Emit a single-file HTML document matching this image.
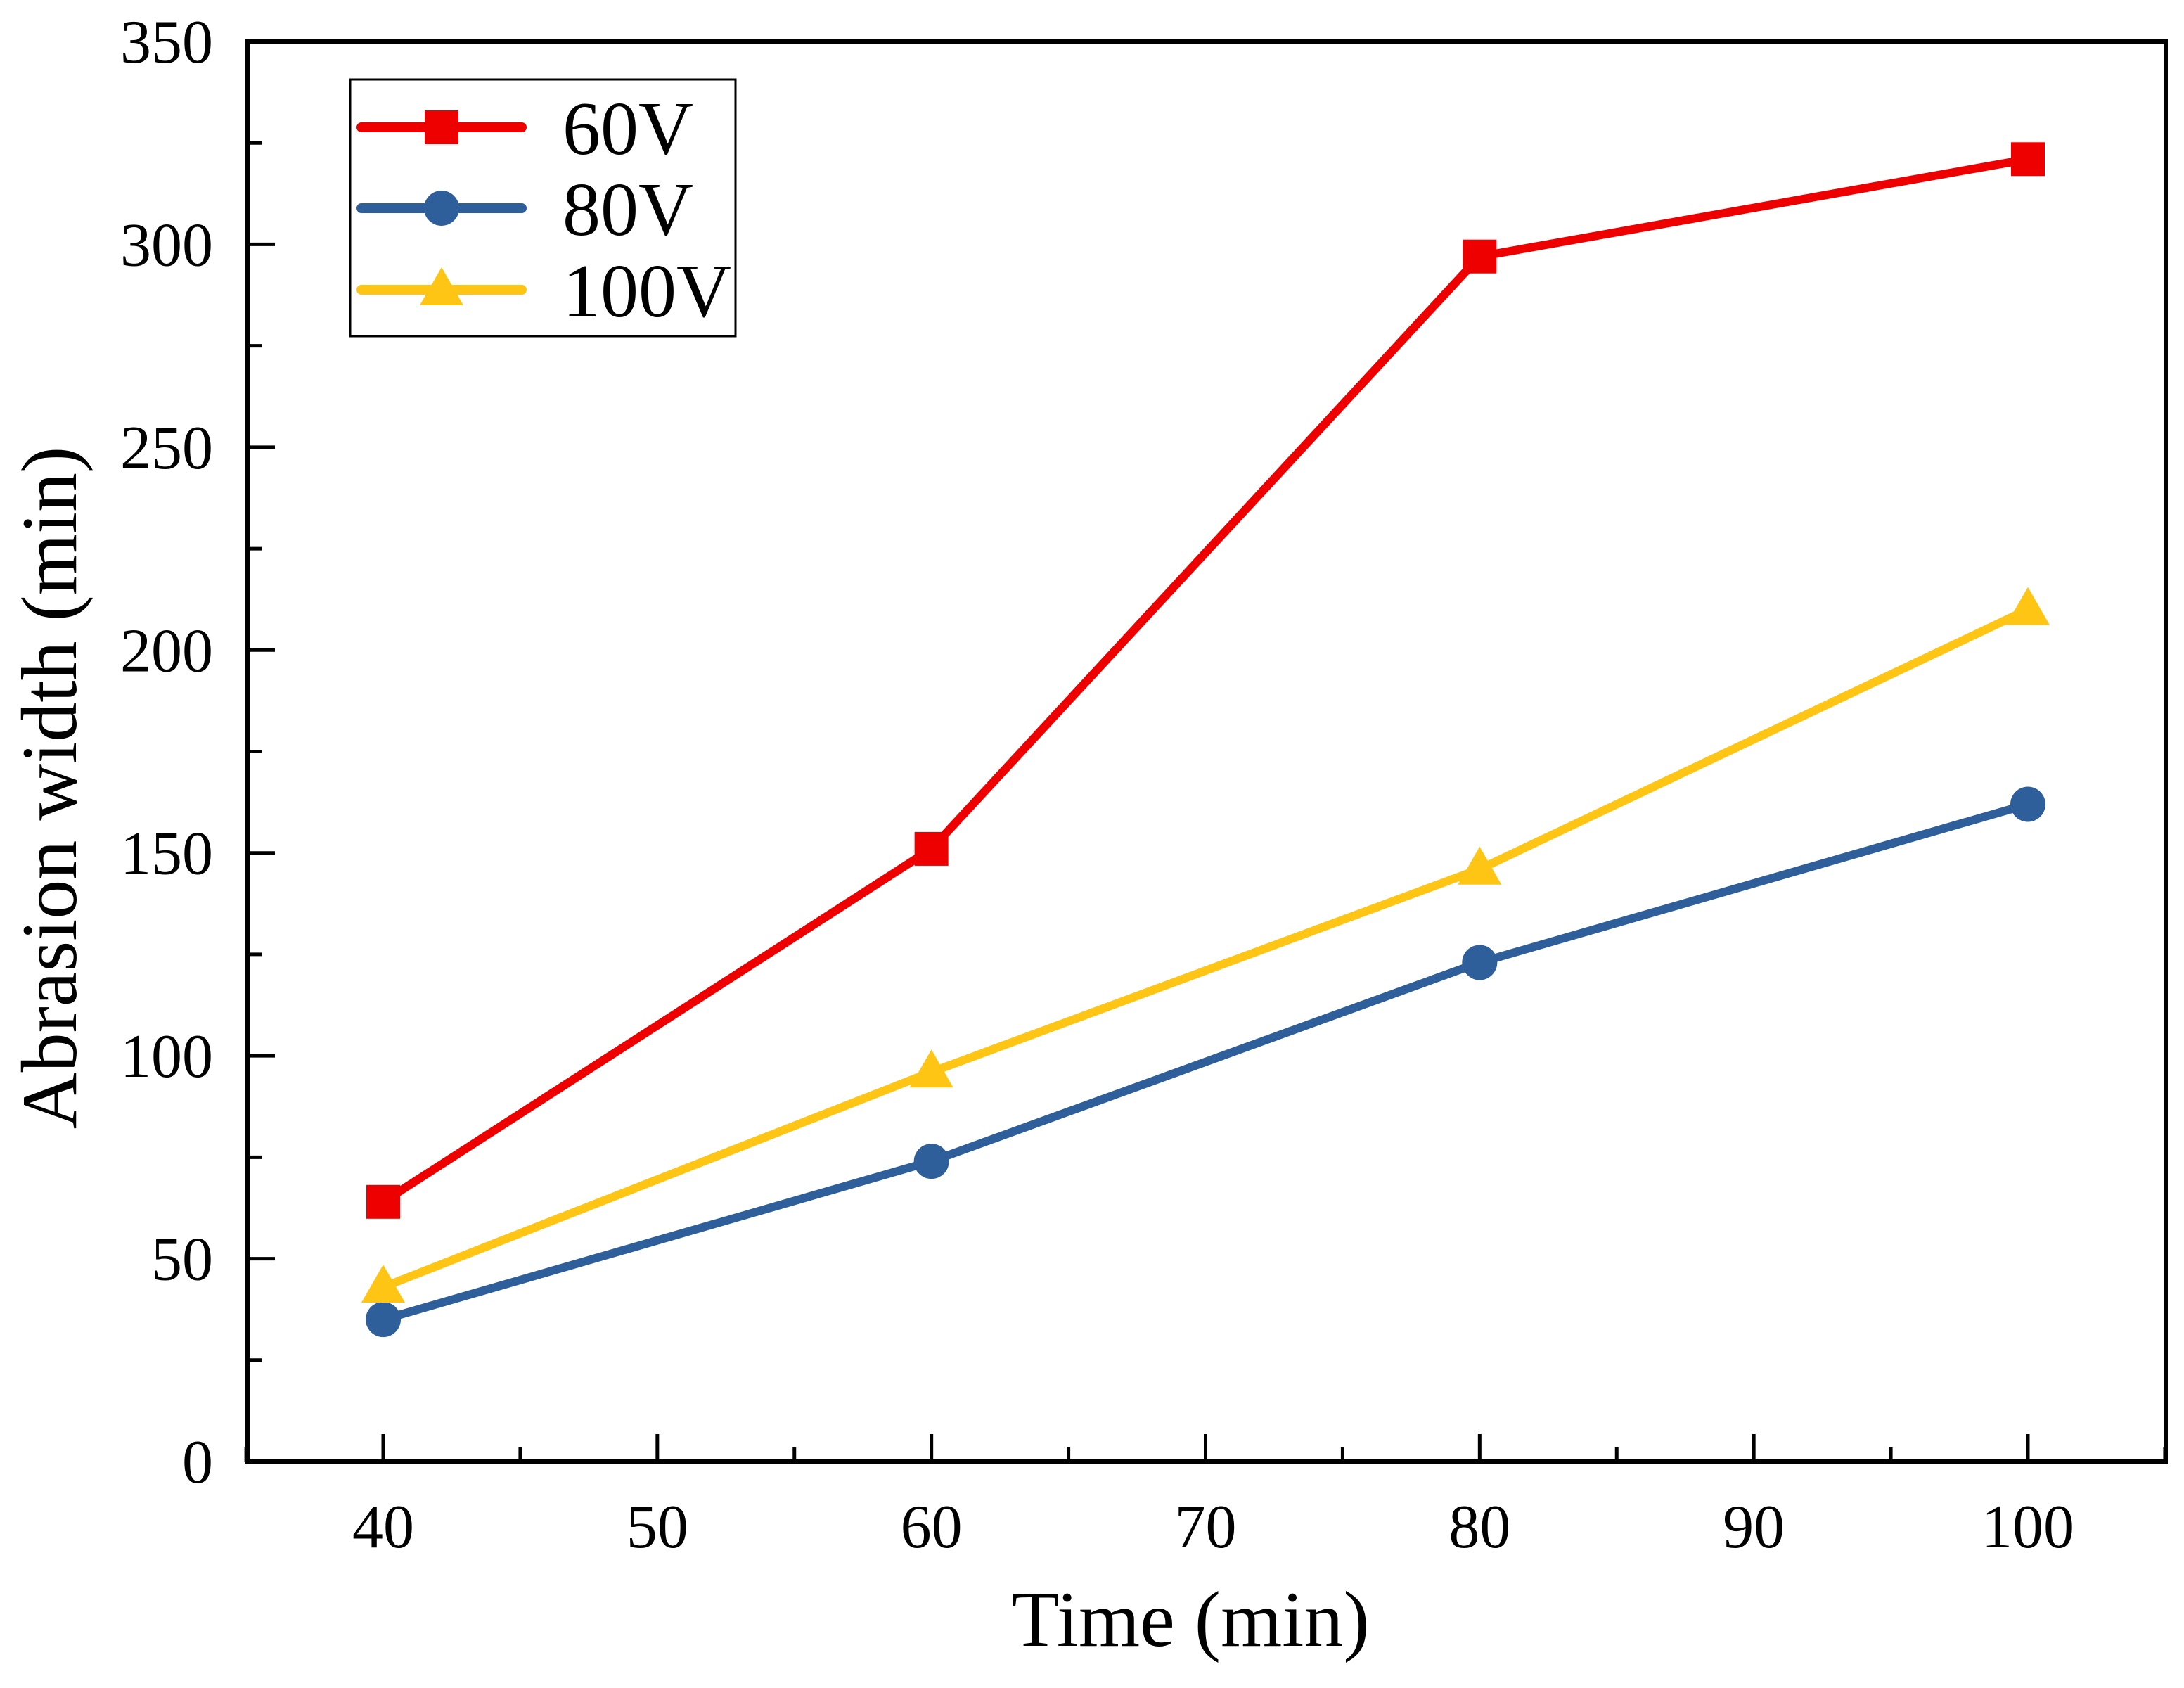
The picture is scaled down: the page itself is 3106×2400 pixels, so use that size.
<!DOCTYPE html>
<html><head><meta charset="utf-8"><style>body{margin:0;background:#fff}svg{display:block}text{font-family:"Liberation Serif",serif;fill:#000}</style></head>
<body>
<svg id="chart" width="3106" height="2400" viewBox="0 0 3106 2400" xmlns="http://www.w3.org/2000/svg">
<rect width="3106" height="2400" fill="#fff"/>
<g id="grid"></g>
<g id="series"></g>
<rect x="352" y="59" width="2728" height="2019" fill="none" stroke="#000" stroke-width="6"/>
<text x="1693" y="2340" font-size="112" text-anchor="middle">Time (min)</text>
<text transform="translate(108,1120) rotate(-90)" font-size="112" text-anchor="middle">Abrasion width (min)</text>
<g>
<rect x="498" y="113" width="548" height="365" fill="#fff" stroke="#000" stroke-width="3"/>
<g id="legend-items"></g>
</g>
</svg>
<script>
const categories = [40, 60, 80, 100];
const series60 = [64, 151, 297, 321];
const series80 = [35, 74, 123, 162];
const series100 = [43, 96, 146, 210];
const xTicks = [40, 50, 60, 70, 80, 90, 100];
const yTicks = [0, 50, 100, 150, 200, 250, 300, 350];
const seriesNames = ["60V", "80V", "100V"];

const NS = "http://www.w3.org/2000/svg";
function X(v){ return 545 + (v-40)*(2884-545)/60; }
function Y(v){ return 2078 - v*(2078-59)/350; }
function mk(tag, attrs, parent){ const e=document.createElementNS(NS,tag); for(const k in attrs) e.setAttribute(k, attrs[k]); parent.appendChild(e); return e; }
const grid=document.getElementById('grid');
const ser=document.getElementById('series');
const leg=document.getElementById('legend-items');

for(let v=35; v<=105; v+=5){
  const major = xTicks.includes(v);
  const t=mk('line',{x1:X(v),x2:X(v),y1:2078,y2:2078-(major?39:20),stroke:'#000','stroke-width':5},grid);
  
  
}
xTicks.forEach(v=>{
  const t=mk('text',{x:X(v),y:2200,'font-size':88,'text-anchor':'middle'},grid);
  t.textContent=v;
  
  
});
for(let v=0; v<=350; v+=25){
  const major = yTicks.includes(v);
  const t=mk('line',{x1:352,x2:352+(major?39:20),y1:Y(v),y2:Y(v),stroke:'#000','stroke-width':5},grid);
  
  
}
yTicks.forEach(v=>{
  const t=mk('text',{x:303,y:Y(v)+30,'font-size':88,'text-anchor':'end'},grid);
  t.textContent=v;
  
  
});

const colors=['#ee0000','#2e5f9a','#ffc514'];
const data=[series60, series80, series100];
function marker(kind, cx, cy, color, parent){
  let m;
  if(kind===0) m=mk('rect',{x:cx-24,y:cy-24,width:48,height:48,fill:color},parent);
  else if(kind===1) m=mk('circle',{cx:cx,cy:cy,r:25,fill:color},parent);
  else m=mk('polygon',{points:`${cx},${cy-32} ${cx+31},${cy+22} ${cx-31},${cy+22}`,fill:color},parent);
  return m;
}
data.forEach((vals,si)=>{
  const g=mk('g',{},ser);
  
  
  const p=mk('polyline',{points:vals.map((v,i)=>X(categories[i])+','+Y(v)).join(' '),fill:'none',stroke:colors[si],'stroke-width':12,'stroke-linejoin':'round'},g);
  
  
  vals.forEach((v,i)=>{
    const m=marker(si,X(categories[i]),Y(v),colors[si],g);
    
    
  });
  const ly=[181,296,412][si];
  const lg=mk('g',{},leg);
  
  
  mk('line',{x1:514,x2:742,y1:ly,y2:ly,stroke:colors[si],'stroke-width':14,'stroke-linecap':'round'},lg);
  marker(si,628,ly,colors[si],lg);
  const t=mk('text',{x:800,y:ly+38,'font-size':108},lg);
  t.textContent=seriesNames[si];
});
</script>
</body></html>
